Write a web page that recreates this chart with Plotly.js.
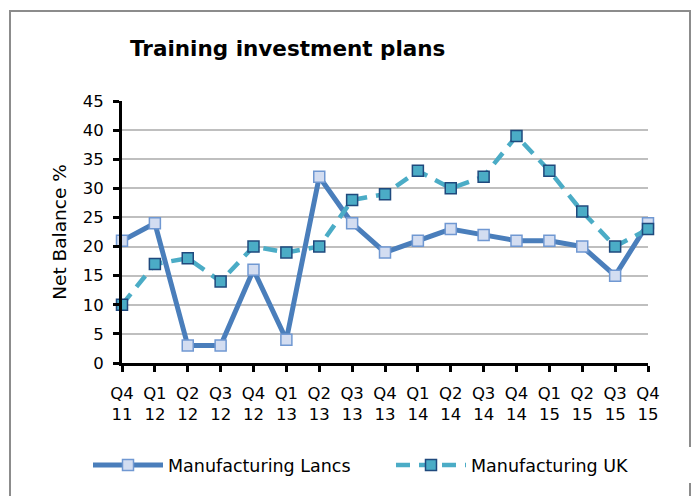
<!DOCTYPE html>
<html>
<head>
<meta charset="utf-8">
<script src="https://cdn.plot.ly/plotly-3.0.1.min.js"></script>
<style>
  body { margin: 0; background: #fff; }
  #chart { width: 698px; height: 496px; }
</style>
</head>
<body>
<div id="chart"></div>
<script>
var quarters = ['Q4<br>11', 'Q1<br>12', 'Q2<br>12', 'Q3<br>12', 'Q4<br>12', 'Q1<br>13', 'Q2<br>13',
    'Q3<br>13', 'Q4<br>13', 'Q1<br>14', 'Q2<br>14', 'Q3<br>14', 'Q4<br>14', 'Q1<br>15',
    'Q2<br>15', 'Q3<br>15', 'Q4<br>15'];
var lancs = [21, 24, 3, 3, 16, 4, 32, 24, 19, 21, 23, 22, 21, 21, 20, 15, 24];
var uk = [10, 17, 18, 14, 20, 19, 20, 28, 29, 33, 30, 32, 39, 33, 26, 20, 23];

var FONT = '"DejaVu Sans", "Liberation Sans", sans-serif';

var lancsTrace = {
    x: quarters,
    y: lancs,
    name: 'Manufacturing Lancs',
    type: 'scatter',
    mode: 'lines+markers',
    line: { color: '#4a7ebb', width: 5 },
    marker: {
        symbol: 'square',
        size: 11,
        color: '#d3ddf1',
        line: { color: '#7098d2', width: 1.5 }
    },
    cliponaxis: false
};

var ukTrace = {
    x: quarters,
    y: uk,
    name: 'Manufacturing UK',
    type: 'scatter',
    mode: 'lines+markers',
    line: { color: '#4bacc6', width: 4.5, dash: '14px,9px' },
    marker: {
        symbol: 'square',
        size: 11,
        color: '#4bacc6',
        line: { color: '#1f497d', width: 1.5 }
    },
    cliponaxis: false
};

var layout = {
    width: 698,
    height: 496,
    margin: { l: 122, r: 50, t: 101, b: 133 },
    paper_bgcolor: '#ffffff',
    plot_bgcolor: '#ffffff',
    font: { family: FONT, size: 16, color: '#000' },
    title: {
        text: '<b>Training investment plans</b>',
        font: { family: FONT, size: 21.5, color: '#000' },
        xref: 'container', x: 130 / 698, xanchor: 'left',
        yref: 'container', y: 1 - 48 / 496, yanchor: 'middle'
    },
    xaxis: {
        type: 'category',
        range: [0, 16],
        showgrid: false,
        showline: true,
        linecolor: '#000',
        linewidth: 3,
        ticks: 'outside',
        ticklen: 6,
        tickwidth: 3,
        tickcolor: '#000',
        tickangle: 0,
        ticklabelstandoff: 7,
        tickfont: { family: FONT, size: 16.5 },
        fixedrange: true
    },
    yaxis: {
        range: [0, 45],
        dtick: 5,
        showgrid: true,
        gridcolor: '#bfbfbf',
        gridwidth: 2,
        zeroline: false,
        showline: true,
        linecolor: '#000',
        linewidth: 3,
        ticks: 'outside',
        ticklen: 6,
        tickwidth: 3,
        tickcolor: '#000',
        ticklabelstandoff: 6,
        tickfont: { family: FONT, size: 16.5 },
        title: { text: 'Net Balance %', font: { family: FONT, size: 18.5 }, standoff: 12 },
        fixedrange: true
    },
    legend: {
        orientation: 'h',
        x: (88 - 122) / 526,
        xanchor: 'left',
        y: -0.39,
        yanchor: 'middle',
        font: { family: FONT, size: 17.5 },
        itemwidth: 70,
        entrywidth: 218,
        tracegroupgap: 0
    },
    showlegend: true,
    shapes: [{
        type: 'rect',
        xref: 'paper', yref: 'paper',
        x0: (10 - 122) / 526, x1: (690 - 122) / 526,
        y0: (363 - 520) / 262, y1: (363 - 11) / 262,
        line: { color: '#8c8c8c', width: 2 },
        fillcolor: 'rgba(0,0,0,0)',
        layer: 'below'
    }]
};

Plotly.newPlot('chart', [lancsTrace, ukTrace], layout, { displayModeBar: false, staticPlot: true });
</script>
</body>
</html>
